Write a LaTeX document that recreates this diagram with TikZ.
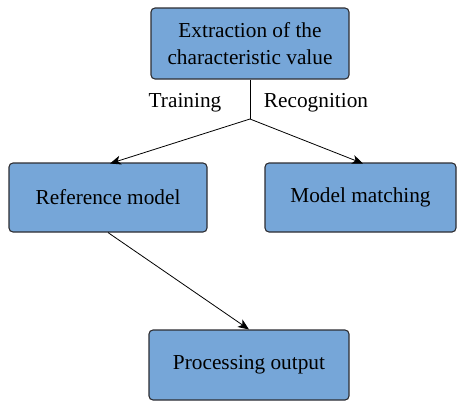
\documentclass[tikz,border=0pt]{standalone}
\usepackage{fontspec}
\setmainfont{Liberation Serif}
\usetikzlibrary{arrows.meta}
\definecolor{boxblue}{RGB}{118,166,216}
\definecolor{boxline}{RGB}{45,45,50}
\begin{document}
\begin{tikzpicture}[x=1pt,y=-1pt,
  box/.style={draw=boxline,fill=boxblue,line width=1.1pt,rounded corners=4pt,
    inner sep=0pt,align=center,font=\fontsize{21.3}{26.5}\selectfont},
  conn/.style={line width=0.8pt,draw=black},
  arr/.style={conn,-{Stealth[length=11pt,width=9pt,inset=3pt]}},
  lbl/.style={font=\fontsize{21.3}{26}\selectfont,inner sep=0pt}]
\useasboundingbox (0,0) rectangle (458,400);
\node[box,minimum width=198pt,minimum height=71pt] (ext) at (250,43.5) {Extraction of the\\characteristic value};
\node[box,minimum width=198pt,minimum height=69pt] (ref) at (108,197.5) {Reference model};
\node[box,minimum width=191pt,minimum height=69pt] (mm) at (360.5,197.5) {Model matching};
\node[box,minimum width=200pt,minimum height=70pt] (out) at (249,365) {Processing output};
\coordinate (split) at (250,119);
\node[lbl] (tr) at (185,103) {Training};
\node[lbl] (rc) at (316,103) {Recognition};
\draw[conn] (ext.south) -- (split);
\draw[arr] (split) -- (110,163.5);
\draw[arr] (split) -- (363,163.5);
\draw[arr] (ref.south) -- (out.north);
\end{tikzpicture}
\end{document}
